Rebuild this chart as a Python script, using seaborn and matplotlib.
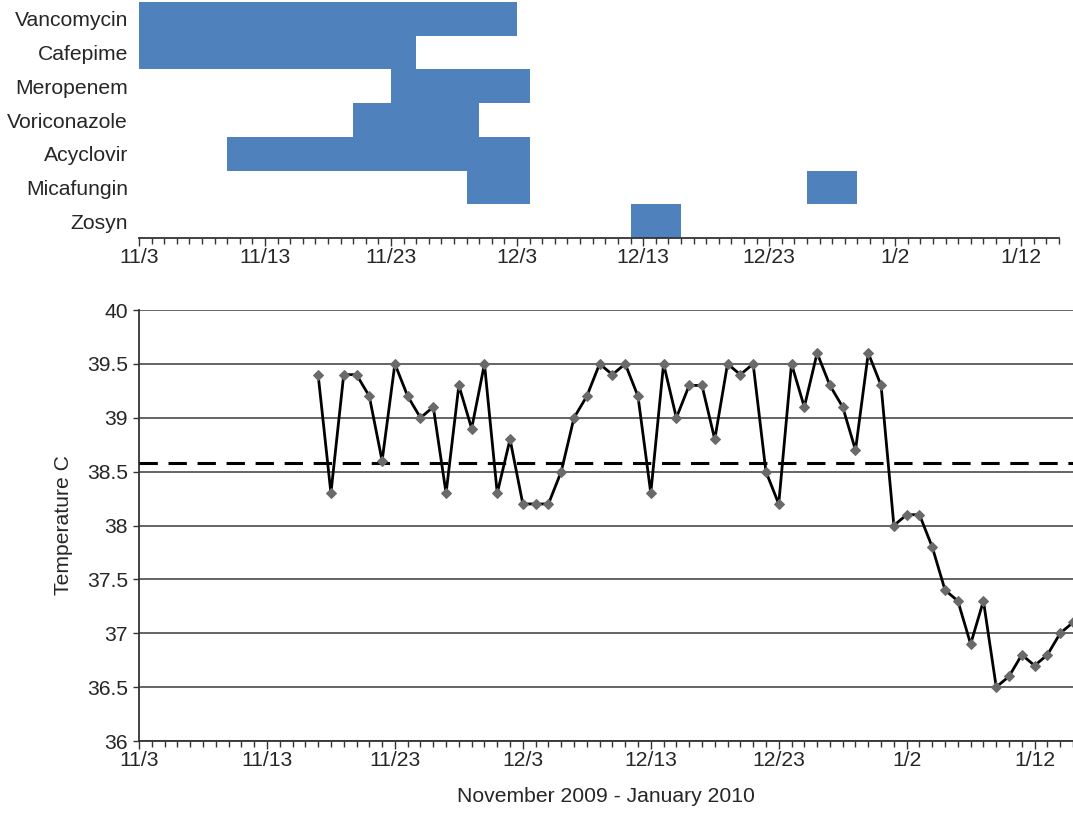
import numpy as np
import pandas as pd
import matplotlib
matplotlib.use("Agg")
import matplotlib.pyplot as plt
from matplotlib.ticker import MultipleLocator, FixedLocator
import seaborn as sns

# ---- data ----
START = pd.Timestamp("2009-11-03")

drugs = ["Vancomycin", "Cafepime", "Meropenem", "Voriconazole",
         "Acyclovir", "Micafungin", "Zosyn"]

# one entry per treatment course
course_drug = ["Vancomycin", "Cafepime", "Meropenem", "Voriconazole",
               "Acyclovir", "Micafungin", "Micafungin", "Zosyn"]
course_start = ["2009-11-03", "2009-11-03", "2009-11-23", "2009-11-20",
                "2009-11-10", "2009-11-29", "2009-12-26", "2009-12-12"]
course_end = ["2009-12-03", "2009-11-25", "2009-12-04", "2009-11-30",
              "2009-12-04", "2009-12-04", "2009-12-30", "2009-12-16"]

# daily max temperature, 11/17/2009 - 1/15/2010
temp_first_day = "2009-11-17"
temps = [39.4, 38.3, 39.4, 39.4, 39.2, 38.6, 39.5, 39.2, 39.0, 39.1,
         38.3, 39.3, 38.9, 39.5, 38.3, 38.8, 38.2, 38.2, 38.2, 38.5,
         39.0, 39.2, 39.5, 39.4, 39.5, 39.2, 38.3, 39.5, 39.0, 39.3,
         39.3, 38.8, 39.5, 39.4, 39.5, 38.5, 38.2, 39.5, 39.1, 39.6,
         39.3, 39.1, 38.7, 39.6, 39.3, 38.0, 38.1, 38.1, 37.8, 37.4,
         37.3, 36.9, 37.3, 36.5, 36.6, 36.8, 36.7, 36.8, 37.0, 37.1]
fever_threshold = 38.58

tick_labels = ["11/3", "11/13", "11/23", "12/3", "12/13", "12/23", "1/2", "1/12"]
y_ticks = [36, 36.5, 37, 37.5, 38, 38.5, 39, 39.5, 40]

# ---- build frames ----
courses = pd.DataFrame({"Drug": course_drug,
                        "Start": pd.to_datetime(course_start),
                        "End": pd.to_datetime(course_end)})
courses["x0"] = (courses["Start"] - START).dt.days
courses["width"] = (courses["End"] - courses["Start"]).dt.days
courses["row"] = courses["Drug"].map({d: i for i, d in enumerate(drugs)})

temp_df = pd.DataFrame({"Date": pd.date_range(temp_first_day, periods=len(temps), freq="D"),
                        "Temp": temps})
temp_df["Day"] = (temp_df["Date"] - START).dt.days

# ---- style ----
sns.set_theme(style="white")
plt.rcParams["font.family"] = ["Liberation Sans", "DejaVu Sans"]
FS = 15.2
BLUE = "#4F81BD"
AXCOL = "#333333"
X_MAX = 73

W, H = 1073, 813
fig = plt.figure(figsize=(W / 100, H / 100), dpi=100)
ax_top = fig.add_axes([139 / W, 1 - 238 / H, (1059 - 139) / W, 236 / H])
ax_bot = fig.add_axes([139 / W, 1 - 741 / H, (1073 - 139) / W, 431 / H])

# ---- top: treatment timeline ----
ax_top.barh(courses["row"], courses["width"], left=courses["x0"], height=1.0,
            color=BLUE, edgecolor="none")
ax_top.set_ylim(len(drugs) - 0.5, -0.5)
ax_top.set_yticks(range(len(drugs)))
ax_top.set_yticklabels(drugs, fontsize=FS)
ax_top.tick_params(axis="y", length=0, pad=8)
for s in ["top", "right", "left"]:
    ax_top.spines[s].set_visible(False)

# ---- bottom: temperature curve ----
sns.lineplot(data=temp_df, x="Day", y="Temp", ax=ax_bot, color="black", lw=2,
             marker="D", markersize=5, markerfacecolor="#6a6a6a",
             markeredgecolor="#6a6a6a", clip_on=False, zorder=4)
ax_bot.axhline(fever_threshold, color="black", lw=2.2, ls=(0, (6, 3.5)), zorder=3)
ax_bot.set_ylim(36, 40)
ax_bot.set_yticks(y_ticks)
ax_bot.set_yticklabels([f"{v:g}" for v in y_ticks], fontsize=FS)
ax_bot.yaxis.grid(True, color="#4a4a4a", lw=1.2)
ax_bot.set_axisbelow(True)
ax_bot.set_ylabel("Temperature C", fontsize=FS, labelpad=10)
ax_bot.set_xlabel("November 2009 - January 2010", fontsize=FS, labelpad=12)
ax_bot.tick_params(axis="y", direction="out", length=4, width=1, color=AXCOL, pad=4, left=True)
for s in ["top", "right"]:
    ax_bot.spines[s].set_visible(False)

# shared x axis look
for ax in (ax_top, ax_bot):
    ax.set_xlim(0, X_MAX)
    ax.xaxis.set_major_locator(FixedLocator(range(0, X_MAX, 10)))
    ax.set_xticklabels(tick_labels, fontsize=FS)
    ax.xaxis.set_minor_locator(MultipleLocator(1))
    ax.tick_params(axis="x", which="major", direction="out", length=5.5, width=1,
                   color=AXCOL, pad=2, bottom=True)
    ax.tick_params(axis="x", which="minor", direction="out", length=4, width=1,
                   color=AXCOL, bottom=True)
    ax.spines["bottom"].set_color(AXCOL)
    ax.spines["bottom"].set_linewidth(1.3)
    ax.set_facecolor("white")
ax_bot.spines["left"].set_color(AXCOL)
ax_bot.spines["left"].set_linewidth(1.3)

fig.savefig("out.png", dpi=100, facecolor="white")
